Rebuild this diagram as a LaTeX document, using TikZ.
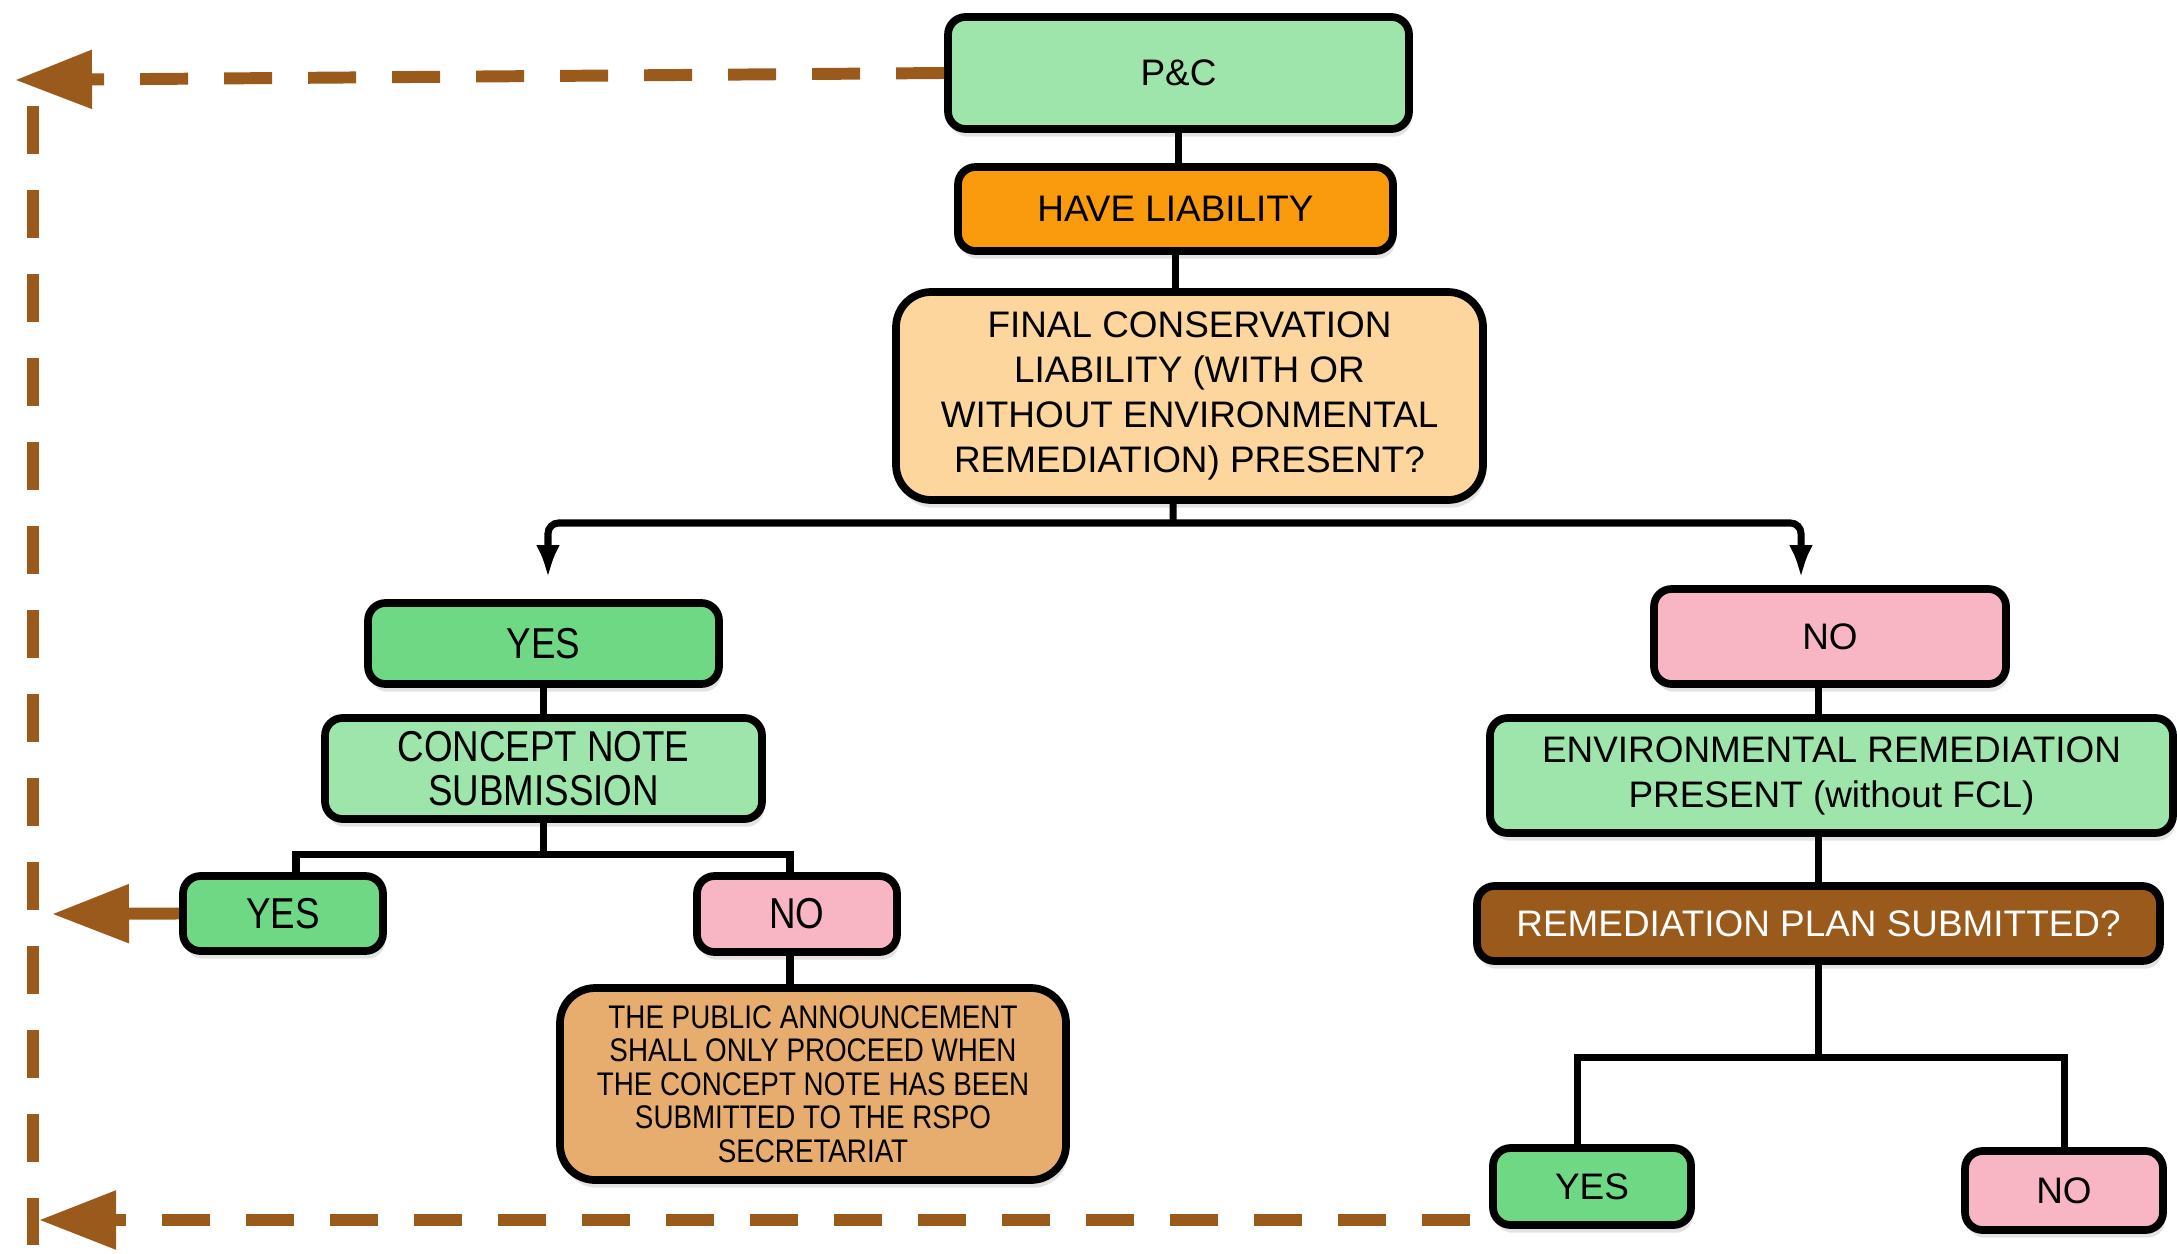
\documentclass[tikz,border=0pt]{standalone}
\usepackage{fontspec}
\setmainfont{Liberation Sans}
\newfontfamily\narrowfont[FakeStretch=0.85]{Liberation Sans}
\usetikzlibrary{arrows.meta,shadows}

\definecolor{palegreen}{HTML}{9DE5AB}
\definecolor{yesgreen}{HTML}{6FD884}
\definecolor{nopink}{HTML}{F8B6C5}
\definecolor{liaborange}{HTML}{F99B0C}
\definecolor{peach}{HTML}{FDD69E}
\definecolor{tanbox}{HTML}{E6AD6F}
\definecolor{rembrown}{HTML}{995A1C}

\tikzset{
  box/.style={shape=rectangle, draw=black, line width=2.2pt, rounded corners=5pt,
    align=center, inner sep=2pt, font=\fontsize{10.5}{12.8}\selectfont,
    drop shadow={shadow xshift=0.6pt, shadow yshift=-2.2pt, opacity=0.22}},
  narrowbox/.style={box, font=\narrowfont\fontsize{12.3}{12.6}\selectfont},
  conn/.style={-, line width=2pt, draw=black},
  backflow/.style={draw=rembrown, line width=3.4pt, dash pattern=on 4.8mm off 3.6mm,
    -{Triangle[length=7.7mm,width=5.6mm]}},
}

\begin{document}
\begin{tikzpicture}
\useasboundingbox (0,0) rectangle (21.77,-12.53);
% main stem
\node[box, fill=palegreen, minimum width=4.61cm, minimum height=1.12cm] (pc) at (11.785,-0.73) {P\&C};
\node[box, fill=liaborange, minimum width=4.35cm, minimum height=0.84cm] (have) at (11.755,-2.09) {HAVE LIABILITY};
\node[box, fill=peach, rounded corners=10pt, minimum width=5.87cm, minimum height=2.08cm] (final) at (11.895,-3.96) {FINAL CONSERVATION\\LIABILITY (WITH OR\\WITHOUT ENVIRONMENTAL\\REMEDIATION) PRESENT?};
% yes branch
\node[narrowbox, fill=yesgreen, minimum width=3.51cm, minimum height=0.81cm] (yesA) at (5.435,-6.435) {YES};
\node[narrowbox, fill=palegreen, minimum width=4.37cm, minimum height=1.01cm] (concept) at (5.435,-7.685) {CONCEPT NOTE\\SUBMISSION};
\node[narrowbox, fill=yesgreen, minimum width=2.0cm, minimum height=0.75cm] (yesB) at (2.83,-9.135) {YES};
\node[narrowbox, fill=nopink, minimum width=2.0cm, minimum height=0.76cm] (noB) at (7.97,-9.14) {NO};
\node[narrowbox, fill=tanbox, rounded corners=10pt, minimum width=5.06cm, minimum height=1.92cm, font=\narrowfont\fontsize{9.3}{9.5}\selectfont] (notice) at (8.13,-10.84) {THE PUBLIC ANNOUNCEMENT\\SHALL ONLY PROCEED WHEN\\THE CONCEPT NOTE HAS BEEN\\SUBMITTED TO THE RSPO\\SECRETARIAT};
% no branch
\node[box, fill=nopink, minimum width=3.52cm, minimum height=0.95cm] (noA) at (18.3,-6.365) {NO};
\node[box, fill=palegreen, minimum width=6.83cm, minimum height=1.15cm] (envrem) at (18.315,-7.755) {ENVIRONMENTAL REMEDIATION\\PRESENT (without FCL)};
\node[box, fill=rembrown, text=white, minimum width=6.83cm, minimum height=0.75cm] (remplan) at (18.185,-9.235) {REMEDIATION PLAN SUBMITTED?};
\node[box, fill=yesgreen, minimum width=1.98cm, minimum height=0.77cm] (yesC) at (15.92,-11.865) {YES};
\node[box, fill=nopink, minimum width=1.98cm, minimum height=0.79cm] (noC) at (20.64,-11.905) {NO};

\coordinate (split) at (11.73,-5.23);
\coordinate (yestip) at (5.48,-5.78);
\coordinate (notip) at (18.01,-5.78);
\coordinate (toptip) at (0.15,-0.80);
\coordinate (railtop) at (0.33,-1.06);
\coordinate (railbot) at (0.33,-12.45);
\coordinate (sidetip) at (0.52,-9.14);
\coordinate (bstart) at (14.70,-12.20);
\coordinate (bottip) at (0.39,-12.20);

\draw[conn] (pc.south) -- (pc.south |- have.north);
\draw[conn] (have.south) -- (have.south |- final.north);
\draw[conn] ([xshift=-1.65mm]final.south) -- (split);
\draw[conn, rounded corners=3pt, -{Latex[length=3.3mm,width=2.4mm]}] (split) -| (yestip);
\draw[conn, rounded corners=3pt, -{Latex[length=3.3mm,width=2.4mm]}] (split) -| (notip);

\draw[conn] (yesA.south) -- (concept.north);
\draw[conn] (concept.south) -- ++(0,-0.32) coordinate (csplit);
\draw[conn] (csplit) -| ([xshift=1.3mm]yesB.north);
\draw[conn] (csplit) -| ([xshift=-0.7mm]noB.north);
\draw[conn] ([xshift=-0.7mm]noB.south) -- ([xshift=-0.7mm]noB.south |- notice.north);

\draw[conn] ([xshift=-1.2mm]noA.south) -- ([xshift=-1.2mm]noA.south |- envrem.north);
\draw[conn] (remplan.north |- envrem.south) -- (remplan.north);
\draw[conn] (remplan.south) -- ++(0,-0.93) coordinate (rsplit);
\draw[conn] (rsplit) -| ([xshift=-1.5mm]yesC.north);
\draw[conn] (rsplit) -| (noC.north);

% return paths
\draw[backflow] (pc.west) -- (toptip);
\draw[backflow, -] (railtop) -- (railbot);
\draw[backflow, solid] (yesB.west) -- (sidetip);
\draw[backflow] (bstart) -- (bottip);
\end{tikzpicture}
\end{document}
